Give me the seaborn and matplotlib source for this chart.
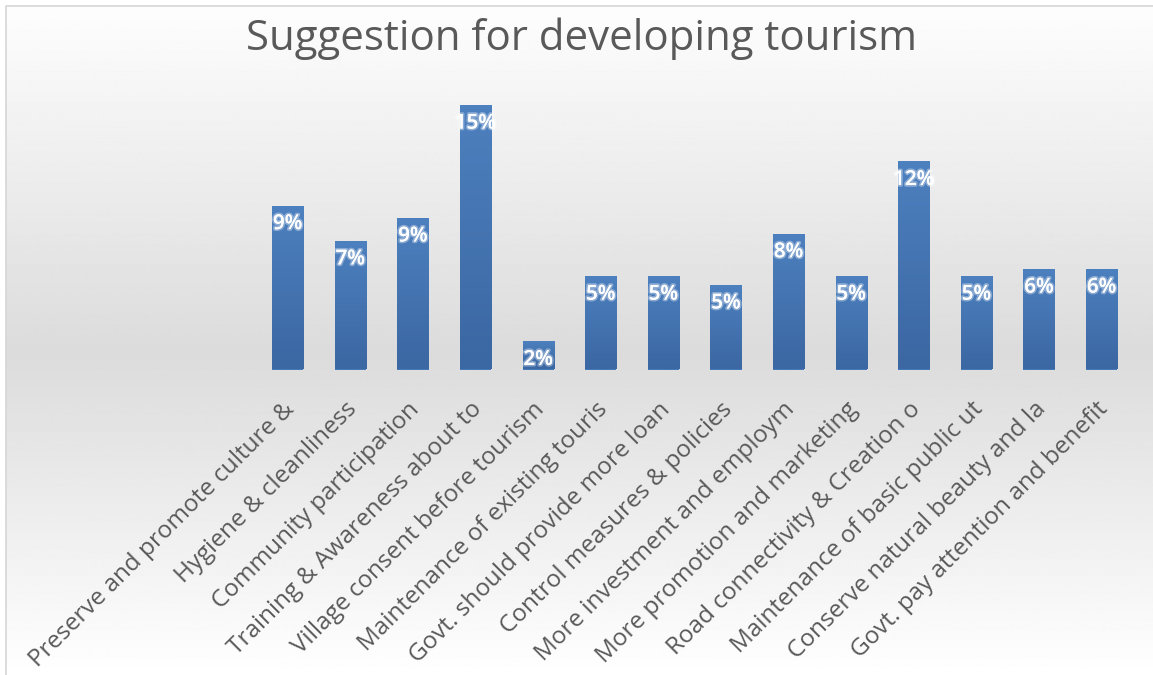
import numpy as np
import pandas as pd
import matplotlib
matplotlib.use("Agg")
import matplotlib.pyplot as plt
import matplotlib.patheffects as pe
from matplotlib.colors import LinearSegmentedColormap
from matplotlib.transforms import ScaledTranslation
import seaborn as sns

# Survey answers (share of respondents, %)
suggestions = [
    "Preserve and promote culture &",
    "Hygiene & cleanliness",
    "Community participation",
    "Training & Awareness about to",
    "Village consent before tourism",
    "Maintenance of existing touris",
    "Govt. should provide more loan",
    "Control measures & policies",
    "More investment and employm",
    "More promotion and marketing",
    "Road connectivity & Creation o",
    "Maintenance of basic public ut",
    "Conserve natural beauty and la",
    "Govt. pay attention and benefit",
]
shares = [9.3, 7.3, 8.6, 15.0, 1.6, 5.3, 5.3, 4.8, 7.7, 5.3, 11.8, 5.3, 5.7, 5.7]
title = "Suggestion for developing tourism"

df = pd.DataFrame({"suggestion": suggestions, "share": shares})

sns.set_theme(style="white")
plt.rcParams["font.family"] = ["Open Sans", "DejaVu Sans"]

W, H = 1153, 675
fig = plt.figure(figsize=(W / 100, H / 100), dpi=100)
fig.patch.set_facecolor("white")

# Chart area background: light at top, grey band in the middle, white at the bottom
bg = fig.add_axes([0, 0, 1, 1], zorder=-10)
ys = np.arange(H)
shade = np.interp(ys, [5, 350, 675], [0.992, 0.86, 1.0])
grad = np.repeat(shade[:, None], 2, axis=1)
bg.imshow(grad, cmap="gray", vmin=0, vmax=1, aspect="auto",
          extent=[6, W, H, 5], interpolation="bilinear")
bg.plot([6, 6, W], [H, 5.5, 5.5], color="#d6d6d6", lw=1.2)
bg.set_xlim(0, W)
bg.set_ylim(H, 0)
bg.axis("off")

# Plot area in pixel terms
left_px, right_px = 256.4, 1133.0
base_px, px_per_unit = 369.5, 17.63
ymax = 16
top_px = base_px - ymax * px_per_unit
ax = fig.add_axes([left_px / W, (H - base_px) / H,
                   (right_px - left_px) / W, (base_px - top_px) / H])
ax.patch.set_alpha(0)

sns.barplot(data=df, x="suggestion", y="share", color="#4679b8",
            saturation=1, width=0.5, ax=ax)
ax.set_xlim(-0.5, len(suggestions) - 0.5)
ax.set_ylim(0, ymax)
for s in ax.spines.values():
    s.set_visible(False)
ax.set_yticks([])
ax.set_xlabel("")
ax.set_ylabel("")

# Vertical gradient fill on every bar
bar_cmap = LinearSegmentedColormap.from_list("bar", ["#3b67a2", "#4d80bf"])
for p in ax.patches:
    x0, y0 = p.get_x(), p.get_y()
    w, h = p.get_width(), p.get_height()
    im = ax.imshow(np.linspace(0, 1, 64)[:, None], cmap=bar_cmap,
                   extent=[x0, x0 + w, y0, y0 + h], origin="lower",
                   aspect="auto", zorder=p.get_zorder() + 0.1)
    im.set_clip_path(p)
    p.set_edgecolor("none")
ax.set_xlim(-0.5, len(suggestions) - 0.5)
ax.set_ylim(0, ymax)

renderer = fig.canvas.get_renderer()


def fit_size(text, target_px, base=12, **kw):
    t = fig.text(0, 0, text, fontsize=base, **kw)
    w = t.get_window_extent(renderer).width
    t.remove()
    return base * target_px / w


# Category labels, rotated and ending under each bar
lab_size = fit_size("Preserve and promote culture &", 362)
ax.set_xticks(range(len(suggestions)))
ax.set_xticklabels(suggestions)
ax.tick_params(axis="x", length=0, pad=26.3, labelsize=lab_size,
               labelcolor="#595959")
shift = ScaledTranslation(3 / 100, 0, fig.dpi_scale_trans)
for lab in ax.get_xticklabels():
    lab.set_rotation(45)
    lab.set_ha("right")
    lab.set_va("center")
    lab.set_rotation_mode("anchor")
    lab.set_transform(lab.get_transform() + shift)

# Value labels inside the top of each bar
val_size = fit_size("15%", 41, weight="semibold")
for i, v in enumerate(shares):
    ax.annotate(f"{v:.0f}%", xy=(i, v), xytext=(0, -13),
                textcoords="offset points", ha="center", va="center",
                color="white", fontsize=val_size, weight="semibold",
                zorder=10,
                path_effects=[pe.withStroke(linewidth=2.5,
                                            foreground=(1, 1, 1, 0.35))])

# Title
t_size = fit_size(title, 667)
fig.text(581.5 / W, 1 - 50 / H, title, ha="center", va="baseline",
         fontsize=t_size, color="#595959")

fig.savefig("out.png", dpi=100)
